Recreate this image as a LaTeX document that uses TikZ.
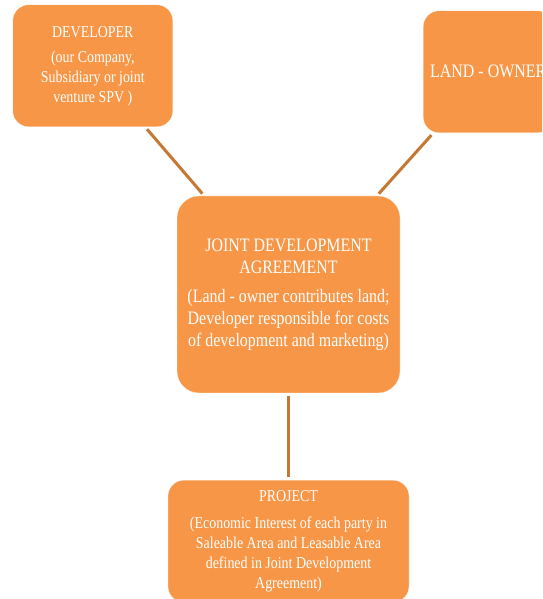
\documentclass[tikz,border=0pt]{standalone}
\usepackage{fontspec}
\setmainfont[FakeStretch=0.84]{Liberation Serif}
\usetikzlibrary{positioning}
\definecolor{boxorange}{HTML}{F79646}
\definecolor{linkbrown}{RGB}{197,120,52}

\begin{document}
\begin{tikzpicture}[x=1pt,y=1pt,
	box/.style={rectangle, rounded corners=16pt, fill=boxorange, draw=white, very thin, text=white, align=center, inner sep=0pt, font=\fontsize{16.6}{20}\selectfont},
	bigbox/.style={box, rounded corners=22pt, font=\fontsize{19}{21.7}\selectfont},
	link/.style={draw=linkbrown, line width=3pt, shorten <=3pt, shorten >=3pt}
	]
	\useasboundingbox (0,0) rectangle (542,599);
	\clip (0,0) rectangle (542,599);
	
	\node[bigbox, minimum width=223pt, minimum height=197pt] (jda) at (288.5,304.5)
	{JOINT DEVELOPMENT\\ AGREEMENT\\[8pt] (Land - owner contributes land;\\ Developer responsible for costs\\ of development and marketing)};
	
	\node[box, minimum width=160pt, minimum height=122pt] (dev) [above left=69pt and 4pt of jda]
	{DEVELOPER\\[5pt] (our Company,\\ Subsidiary or joint\\ venture SPV )};
	\node[bigbox, rounded corners=16pt, minimum width=130pt, minimum height=122pt] (owner) [above right=63pt and 23pt of jda]
	{LAND - OWNER};
	\node[box, minimum width=241pt, minimum height=122pt] (proj) [below=87pt of jda]
	{PROJECT\\[7pt] (Economic Interest of each party in\\ Saleable Area and Leasable Area\\ defined in Joint Development\\ Agreement)};
	
	%links into the agreement
	\draw[link] (dev) -- (jda);
	\draw[link] (owner) -- (jda);
	\draw[link] (jda) -- (proj);
	
\end{tikzpicture}
\end{document}
